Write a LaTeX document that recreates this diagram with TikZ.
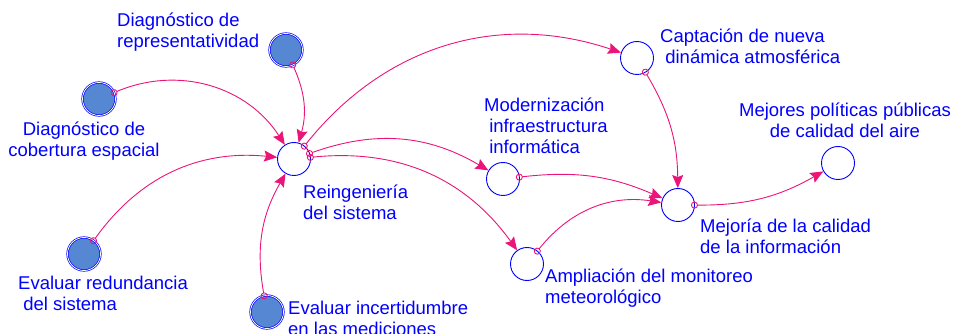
\documentclass[tikz,border=0pt]{standalone}
\usepackage{fontspec}
\setmainfont{Liberation Sans}
\usetikzlibrary{arrows.meta,positioning}
\definecolor{varblue}{RGB}{0,0,255}
\definecolor{linkpink}{RGB}{235,20,120}
\definecolor{stockfill}{RGB}{85,135,210}

\tikzset{
  var/.style={circle,draw=varblue,line width=0.9pt,minimum size=33pt,inner sep=0pt},
  given/.style={var,fill=stockfill,double=white,double distance=0.8pt,line width=0.7pt},
  lbl/.style={text=varblue,font=\fontsize{18.5}{21}\selectfont,inner sep=0pt,align=left,anchor=base west},
  link/.style={draw=linkpink,line width=0.9pt,
    {Circle[open,length=7pt,width=7pt]}-{Stealth[length=13pt,width=11pt,inset=2pt]},
    shorten <=-4pt}
}

\begin{document}
\begin{tikzpicture}[x=1pt,y=-1pt]
\useasboundingbox (0,0) rectangle (954,334);

% inputs
\node[given] (diagrep) at (286,50) {};
\node[given] (diagcob) at (99,99) {};
\node[given] (evalred) at (84,254) {};
\node[given] (evalinc) at (267,312) {};

% variables
\node[var] (reing) at (294,159) {};
\node[var] (modern) at (503,179) {};
\node[var] (capta) at (637,58) {};
\node[var] (amplia) at (527,264) {};
\node[var] (mejoria) at (678,205) {};
\node[var] (mejores) at (838,163) {};

% labels (base = last line)
\node[lbl] (diagrep-l) at (117,48) {Diagnóstico de\\representatividad};
\node[lbl,align=center,anchor=base] (diagcob-l) at (84,157) {Diagnóstico de\\cobertura espacial};
\node[lbl] (evalred-l) at (18,310) {Evaluar redundancia\\\ del sistema};
\node[lbl] (evalinc-l) at (288,335) {Evaluar incertidumbre\\en las mediciones};
\node[lbl] (reing-l) at (303,220) {Reingeniería\\del sistema};
\node[lbl] (modern-l) at (484,154) {Modernización\\\ infraestructura\\\ informática};
\node[lbl] (capta-l) at (660,64) {Captación de nueva\\\ dinámica atmosférica};
\node[lbl] (amplia-l) at (545,303) {Ampliación del monitoreo\\meteorológico};
\node[lbl] (mejoria-l) at (700,254) {Mejoría de la calidad\\de la información};
\node[lbl,align=center,anchor=base] (mejores-l) at (845,138) {Mejores políticas públicas\\de calidad del aire};

% links
\draw[link] (diagrep) to[bend left=20] (reing);
\draw[link] (diagcob) to[bend left=40] (reing);
\draw[link] (evalred) to[bend left=30] (reing);
\draw[link] (evalinc) to[bend left=20] (reing);
\draw[link] (reing) to[bend left=35] (capta);
\draw[link] (reing) to[bend left=25] (modern);
\draw[link] (reing) to[bend left=30] (amplia);
\draw[link] (modern) to[bend left=15] (mejoria);
\draw[link] (capta) to[bend left=15] (mejoria);
\draw[link] (amplia) to[bend left=30] (mejoria);
\draw[link] (mejoria) to[bend right=15] (mejores);
\end{tikzpicture}
\end{document}
